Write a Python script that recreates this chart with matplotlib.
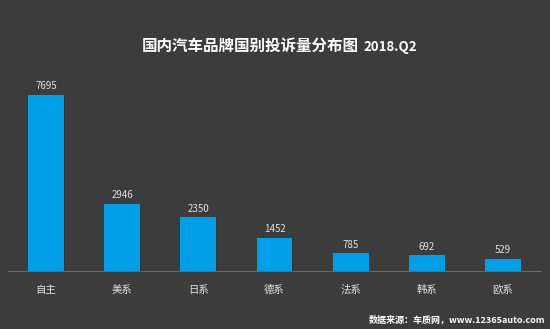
import matplotlib.pyplot as plt

plt.rcParams['font.family'] = ['Noto Sans CJK SC', 'DejaVu Sans']

categories = ['自主', '美系', '日系', '德系', '法系', '韩系', '欧系']
complaints = [7695, 2946, 2350, 1452, 785, 692, 529]

BG = '#3c3c3c'
BAR = '#00a0e9'

fig = plt.figure(figsize=(5.5, 3.29), dpi=100, facecolor=BG)
ax = fig.add_axes([8 / 550, 58 / 329, 533 / 550, 206 / 329], facecolor=BG)

x = range(len(categories))
# faint shadow on the right side of each bar
ax.bar([i + 0.02 for i in x], complaints, width=0.47, color='#33383c', zorder=1)
ax.bar(x, complaints, width=0.47, color=BAR, zorder=2)

for i, v in zip(x, complaints):
    ax.text(i, v + 150, str(v), ha='center', va='bottom', color='#e0e0e0', fontsize=7)

ax.set_xlim(-0.5, 6.5)
ax.set_ylim(0, 9000)
ax.set_xticks(list(x))
ax.set_xticklabels(categories, color='#e0e0e0', fontsize=7.5)
ax.tick_params(axis='x', length=0, pad=10)
ax.set_yticks([])
for side in ['top', 'right', 'left']:
    ax.spines[side].set_visible(False)
ax.spines['bottom'].set_color('#6a6a6a')
ax.spines['bottom'].set_linewidth(0.8)

fig.text(359 / 550, 1 - 46 / 329, '国内汽车品牌国别投诉量分布图', ha='right', va='center',
         color='white', fontsize=11.2, fontweight='bold')
fig.text(363 / 550, 1 - 47 / 329, '2018.Q2', ha='left', va='center',
         color='white', fontsize=9.5, fontweight='bold')
fig.text(545 / 550, 1 - 320 / 329, '数据来源：车质网，www.12365auto.com', ha='right', va='center',
         color='white', fontsize=6.5, fontweight='bold')

fig.savefig('out.png', dpi=100, facecolor=BG)
